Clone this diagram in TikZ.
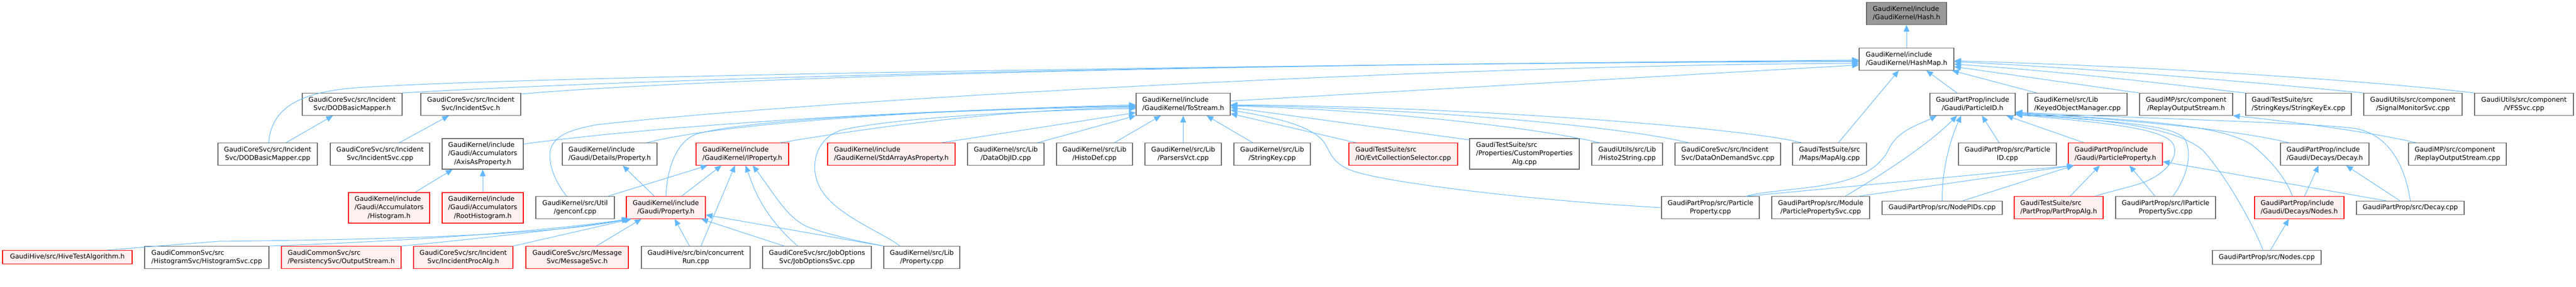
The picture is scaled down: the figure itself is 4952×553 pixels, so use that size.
\documentclass[tikz,border=0pt]{standalone}
\usepackage{fontspec}
\setmainfont{DejaVu Sans}
\usepackage{tikz}
\usetikzlibrary{arrows.meta}
\usepackage{xcolor}

\definecolor{edgeblue}{HTML}{63B8FF}
\definecolor{boxgray}{HTML}{666666}
\definecolor{hashgray}{HTML}{999999}
\definecolor{redfill}{HTML}{FFF0F0}

% file labels: upper lines left aligned, last line centred
\newcommand{\fone}[1]{\begin{tabular}{@{}c@{}}#1\end{tabular}}
\newcommand{\ftwo}[2]{\begin{tabular}{@{}l@{}}#1\\\multicolumn{1}{@{}c@{}}{#2}\end{tabular}}
\newcommand{\fthree}[3]{\begin{tabular}{@{}l@{}}#1\\#2\\\multicolumn{1}{@{}c@{}}{#3}\end{tabular}}

\begin{document}
\begin{tikzpicture}[x=1pt, y=-1pt,
    filebox/.style={draw=boxgray, fill=white, line width=1.2pt, inner xsep=6pt, inner ysep=5pt, font=\fontsize{12.7}{16.3}\selectfont},
    redbox/.style={filebox, draw=red, fill=redfill},
    hashbox/.style={filebox, fill=hashgray},
    incl/.style={draw=edgeblue, line width=1pt, >={Triangle[length=13pt,width=11pt]}, <-}]

\useasboundingbox (0,0) rectangle (4952,553);

% Hash.h and HashMap.h
\node[hashbox, minimum width=154pt] (hash) at (3665,26) {\ftwo{GaudiKernel/include}{/GaudiKernel/Hash.h}};
\node[filebox, minimum width=182pt] (hashmap) at (3665,114) {\ftwo{GaudiKernel/include}{/GaudiKernel/HashMap.h}};

% second row
\node[filebox, minimum width=192pt] (dodh) at (677,201) {\ftwo{GaudiCoreSvc/src/Incident}{Svc/DODBasicMapper.h}};
\node[filebox, minimum width=192pt] (incsvch) at (905,201) {\ftwo{GaudiCoreSvc/src/Incident}{Svc/IncidentSvc.h}};
\node[filebox, minimum width=181pt] (tostream) at (2274.5,201) {\ftwo{GaudiKernel/include}{/GaudiKernel/ToStream.h}};
\node[filebox, minimum width=164pt] (particleid) at (3792,201) {\ftwo{GaudiPartProp/include}{/Gaudi/ParticleID.h}};
\node[filebox, minimum width=191pt] (keyed) at (3993.5,201) {\ftwo{GaudiKernel/src/Lib}{/KeyedObjectManager.cpp}};
\node[filebox, minimum width=179pt] (replayh) at (4202.5,201) {\ftwo{GaudiMP/src/component}{/ReplayOutputStream.h}};
\node[filebox, minimum width=203pt] (strkeyex) at (4418.5,201) {\ftwo{GaudiTestSuite/src}{/StringKeys/StringKeyEx.cpp}};
\node[filebox, minimum width=189pt] (sigmon) at (4638.5,201) {\ftwo{GaudiUtils/src/component}{/SignalMonitorSvc.cpp}};
\node[filebox, minimum width=190pt] (vfssvc) at (4852,201) {\ftwo{GaudiUtils/src/component}{/VFSSvc.cpp}};

% third row
\node[filebox, minimum width=191pt] (dodcpp) at (514.5,297) {\ftwo{GaudiCoreSvc/src/Incident}{Svc/DODBasicMapper.cpp}};
\node[filebox, minimum width=191pt] (incsvccpp) at (730.5,297) {\ftwo{GaudiCoreSvc/src/Incident}{Svc/IncidentSvc.cpp}};
\node[filebox, minimum width=156pt] (axis) at (928,296.5) {\fthree{GaudiKernel/include}{/Gaudi/Accumulators}{/AxisAsProperty.h}};
\node[filebox, minimum width=182pt] (detprop) at (1172,297) {\ftwo{GaudiKernel/include}{/Gaudi/Details/Property.h}};
\node[redbox, minimum width=178pt] (iprop) at (1427,297) {\ftwo{GaudiKernel/include}{/GaudiKernel/IProperty.h}};
\node[redbox, minimum width=245pt] (stdarray) at (1713.5,297) {\ftwo{GaudiKernel/include}{/GaudiKernel/StdArrayAsProperty.h}};
\node[filebox, minimum width=147pt] (dataobjid) at (1933.5,297) {\ftwo{GaudiKernel/src/Lib}{/DataObjID.cpp}};
\node[filebox, minimum width=146pt] (histodef) at (2104,297) {\ftwo{GaudiKernel/src/Lib}{/HistoDef.cpp}};
\node[filebox, minimum width=147pt] (parsersvct) at (2274.5,297) {\ftwo{GaudiKernel/src/Lib}{/ParsersVct.cpp}};
\node[filebox, minimum width=147pt] (stringkey) at (2445.5,297) {\ftwo{GaudiKernel/src/Lib}{/StringKey.cpp}};
\node[redbox, minimum width=209pt] (evtsel) at (2697.5,297) {\ftwo{GaudiTestSuite/src}{/IO/EvtCollectionSelector.cpp}};
\node[filebox, minimum width=211pt] (custprop) at (2930.5,296.5) {\fthree{GaudiTestSuite/src}{/Properties/CustomProperties}{Alg.cpp}};
\node[filebox, minimum width=136pt] (histo2str) at (3128,297) {\ftwo{GaudiUtils/src/Lib}{/Histo2String.cpp}};
\node[filebox, minimum width=203pt] (dataondemand) at (3321.5,297) {\ftwo{GaudiCoreSvc/src/Incident}{Svc/DataOnDemandSvc.cpp}};
\node[filebox, minimum width=142pt] (mapalg) at (3517,297) {\ftwo{GaudiTestSuite/src}{/Maps/MapAlg.cpp}};
\node[filebox, minimum width=188pt] (particleidcpp) at (3859,297) {\ftwo{GaudiPartProp/src/Particle}{ID.cpp}};
\node[redbox, minimum width=181pt] (partproph) at (4066.5,297) {\ftwo{GaudiPartProp/include}{/Gaudi/ParticleProperty.h}};
\node[filebox, minimum width=170pt] (decayh) at (4469,297) {\ftwo{GaudiPartProp/include}{/Gaudi/Decays/Decay.h}};
\node[filebox, minimum width=188pt] (replaycpp) at (4724,297) {\ftwo{GaudiMP/src/component}{/ReplayOutputStream.cpp}};

% fourth row
\node[redbox, minimum width=156pt] (histogramh) at (748,400.5) {\fthree{GaudiKernel/include}{/Gaudi/Accumulators}{/Histogram.h}};
\node[redbox, minimum width=156pt] (roothist) at (928,400.5) {\fthree{GaudiKernel/include}{/Gaudi/Accumulators}{/RootHistogram.h}};
\node[filebox, minimum width=151pt] (genconf) at (1105.5,400) {\ftwo{GaudiKernel/src/Util}{/genconf.cpp}};
\node[redbox, minimum width=152pt] (property) at (1280,400) {\ftwo{GaudiKernel/include}{/Gaudi/Property.h}};
\node[filebox, minimum width=188pt] (ppcpp) at (3288,400) {\ftwo{GaudiPartProp/src/Particle}{Property.cpp}};
\node[filebox, minimum width=188pt] (ppsvc) at (3500,400) {\ftwo{GaudiPartProp/src/Module}{/ParticlePropertySvc.cpp}};
\node[filebox, minimum width=231pt] (nodepids) at (3733.5,400.5) {\fone{GaudiPartProp/src/NodePIDs.cpp}};
\node[redbox, minimum width=171pt] (partpropalg) at (3957.5,400) {\ftwo{GaudiTestSuite/src}{/PartProp/PartPropAlg.h}};
\node[filebox, minimum width=192pt] (ipps) at (4163,400) {\ftwo{GaudiPartProp/src/IParticle}{PropertySvc.cpp}};
\node[redbox, minimum width=172pt] (nodesh) at (4420,400) {\ftwo{GaudiPartProp/include}{/Gaudi/Decays/Nodes.h}};
\node[filebox, minimum width=207pt] (decaycpp) at (4633.5,400.5) {\fone{GaudiPartProp/src/Decay.cpp}};

% bottom row
\node[redbox, minimum width=249pt] (hivetest) at (129.5,495.5) {\fone{GaudiHive/src/HiveTestAlgorithm.h}};
\node[filebox, minimum width=239pt] (histsvc) at (397.5,496) {\ftwo{GaudiCommonSvc/src}{/HistogramSvc/HistogramSvc.cpp}};
\node[redbox, minimum width=230pt] (outstream) at (656,496) {\ftwo{GaudiCommonSvc/src}{/PersistencySvc/OutputStream.h}};
\node[redbox, minimum width=191pt] (incproc) at (890.5,496) {\ftwo{GaudiCoreSvc/src/Incident}{Svc/IncidentProcAlg.h}};
\node[redbox, minimum width=197pt] (msgsvc) at (1109.5,496) {\ftwo{GaudiCoreSvc/src/Message}{Svc/MessageSvc.h}};
\node[filebox, minimum width=209pt] (concrun) at (1337.5,496) {\ftwo{GaudiHive/src/bin/concurrent}{Run.cpp}};
\node[filebox, minimum width=209pt] (jobopt) at (1570.5,496) {\ftwo{GaudiCoreSvc/src/JobOptions}{Svc/JobOptionsSvc.cpp}};
\node[filebox, minimum width=146pt] (libprop) at (1772,496) {\ftwo{GaudiKernel/src/Lib}{/Property.cpp}};
\node[filebox, minimum width=209pt] (nodescpp) at (4357.5,496) {\fone{GaudiPartProp/src/Nodes.cpp}};

% includes of HashMap.h
\draw[incl] (hash) -- (hashmap);
\draw[incl] (hashmap.181) .. controls (2000,130) and (1000,150) .. (700,168) .. controls (580,175) and (522,205) .. ([xshift=2pt]dodcpp.north);
\draw[incl] (hashmap.182) .. controls (2000,125) and (1100,160) .. (dodh.north east);
\draw[incl] (hashmap.183) .. controls (2200,122) and (1300,155) .. ([yshift=-2pt]incsvch.north east);
\draw[incl] (hashmap.185) .. controls (2800,125) and (1600,190) .. (1150,240) .. controls (1090,250) and (1057,265) .. (1057,300) .. controls (1057,330) and (1075,360) .. ([xshift=-16pt]genconf.north);
\draw[incl] (hashmap.187) -- (tostream.4);
\draw[incl] ([xshift=-15pt]hashmap.south) -- ([xshift=17pt]mapalg.north);
\draw[incl] ([xshift=38pt]hashmap.south) -- ([xshift=-30pt]particleid.north);
\draw[incl] ([xshift=-4pt]hashmap.south east) -- ([xshift=-78pt]keyed.north);
\draw[incl] (hashmap.-9) -- (replayh.north west);
\draw[incl] (hashmap.-6) .. controls (4000,140) and (4250,172) .. (strkeyex.north west);
\draw[incl] (hashmap.-3) .. controls (4100,136) and (4450,170) .. (sigmon.north west);
\draw[incl] (hashmap.-2) .. controls (4200,130) and (4600,160) .. (vfssvc.north west);

% includes of ToStream.h
\draw[incl] ([yshift=-3pt]tostream.west) .. controls (1800,210) and (1300,238) .. ([yshift=-11pt]axis.north east);
\draw[incl] ([yshift=-1pt]tostream.west) .. controls (1800,212) and (1400,235) .. ([xshift=71pt]detprop.north);
\draw[incl] ([yshift=-4pt]tostream.west) .. controls (1700,215) and (1420,235) .. (1340,258) .. controls (1298,272) and (1282,330) .. (property.north);
\draw[incl] ([yshift=-6pt]tostream.west) .. controls (1900,212) and (1650,250) .. ([xshift=72pt]iprop.north);
\draw[incl] ([yshift=-8pt]tostream.west) .. controls (1900,215) and (1700,232) .. (1620,250) .. controls (1565,265) and (1550,330) .. (1585,375) .. controls (1620,420) and (1700,450) .. ([xshift=-42pt]libprop.north);
\draw[incl] ([yshift=-16pt]tostream.west) -- ([xshift=96pt]stdarray.north);
\draw[incl] (tostream.south west) -- ([xshift=61pt]dataobjid.north);
\draw[incl] ([xshift=-43pt]tostream.south) -- ([xshift=38pt]histodef.north);
\draw[incl] (tostream) -- (parsersvct);
\draw[incl] ([xshift=45pt]tostream.south) -- ([xshift=-37pt]stringkey.north);
\draw[incl] ([yshift=-6pt]tostream.east) -- ([yshift=-3pt]custprop.north west);
\draw[incl] ([yshift=-18pt]tostream.east) -- ([xshift=-90pt]evtsel.north);
\draw[incl] ([yshift=-11pt]tostream.east) .. controls (2440,225) and (2525,240) .. (2548,278) .. controls (2560,300) and (2565,322) .. (2620,335) .. controls (2720,360) and (3000,390) .. (ppcpp.west);
\draw[incl] ([yshift=-3pt]tostream.east) .. controls (2650,212) and (2950,245) .. ([xshift=-53pt]histo2str.north);
\draw[incl] ([yshift=-2pt]tostream.east) .. controls (2700,208) and (3100,240) .. ([xshift=-75pt]dataondemand.north);
\draw[incl] ([yshift=-1pt]tostream.east) .. controls (2800,205) and (3350,245) .. ([xshift=-54pt]mapalg.north);

% includes of IProperty.h
\draw[incl] ([xshift=-67pt]iprop.south) -- ([xshift=63pt]genconf.north);
\draw[incl] ([xshift=-40pt]iprop.south) -- ([xshift=30pt]property.north);
\draw[incl] ([xshift=-14pt]iprop.south) -- ([xshift=10pt]concrun.north);
\draw[incl] ([xshift=6pt]iprop.south) .. controls (1445,350) and (1460,410) .. ([xshift=-37pt]jobopt.north);
\draw[incl] ([xshift=20pt]iprop.south) .. controls (1490,375) and (1515,425) .. (1560,440) .. controls (1620,460) and (1680,470) .. (libprop.north west);

% includes of Gaudi/Property.h
\draw[incl] ([xshift=25pt]detprop.south) -- ([xshift=-22pt]property.north);
\draw[incl] ([yshift=-14pt]property.east) -- (libprop.north west);
\draw[incl] ([xshift=68pt]property.south) -- ([xshift=-63pt]jobopt.north);
\draw[incl] ([xshift=17pt]property.south) -- ([xshift=-12pt]concrun.north);
\draw[incl] ([xshift=-47pt]property.south) -- ([xshift=37pt]msgsvc.north);
\draw[incl] ([xshift=-66pt]property.south) -- (incproc.north east);
\draw[incl] ([xshift=-68pt]property.south) .. controls (1100,440) and (900,462) .. (outstream.north east);
\draw[incl] ([xshift=-70pt]property.south) .. controls (1050,445) and (800,464) .. (histsvc.north east);
\draw[incl] ([xshift=-72pt]property.south) .. controls (1050,455) and (700,462) .. (420,465) -- ([xshift=77pt]hivetest.north);

% accumulators and incident service
\draw[incl] ([xshift=-58pt]axis.south) -- ([xshift=50pt]histogramh.north);
\draw[incl] (axis) -- (roothist);
\draw[incl] ([xshift=-42pt]incsvch.south) -- ([xshift=37pt]incsvccpp.north);
\draw[incl] ([xshift=-37pt]dodh.south) -- ([xshift=35pt]dodcpp.north);

% includes of ParticleID.h
\draw[incl] ([xshift=-69pt]particleid.south) .. controls (3690,240) and (3650,250) .. (3632,285) .. controls (3612,330) and (3560,352) .. (3470,362) .. controls (3420,368) and (3375,372) .. ([xshift=69pt]ppcpp.north);
\draw[incl] ([xshift=-30pt]particleid.south) .. controls (3705,280) and (3620,335) .. ([xshift=47pt]ppsvc.north);
\draw[incl] ([xshift=-22pt]particleid.south) .. controls (3752,262) and (3733,320) .. (nodepids.north);
\draw[incl] ([xshift=18pt]particleid.south) -- ([xshift=-16pt]particleidcpp.north);
\draw[incl] ([xshift=65pt]particleid.south) -- ([xshift=-60pt]partproph.north);
\draw[incl] ([yshift=-20pt]particleid.east) .. controls (4040,236) and (4150,246) .. (4175,274) .. controls (4195,300) and (4160,340) .. (4110,355) .. controls (4080,364) and (4045,372) .. ([xshift=70pt]partpropalg.north);
\draw[incl] ([yshift=-19pt]particleid.east) .. controls (4060,234) and (4180,240) .. (4200,268) .. controls (4215,295) and (4205,340) .. ([xshift=14pt]ipps.north);
\draw[incl] ([yshift=-18pt]particleid.east) .. controls (4080,232) and (4190,250) .. (4235,290) .. controls (4280,340) and (4330,430) .. ([xshift=-7pt]nodescpp.north);
\draw[incl] ([yshift=-17pt]particleid.east) .. controls (4150,232) and (4280,245) .. (4330,280) .. controls (4365,308) and (4395,345) .. ([xshift=-13pt]nodesh.north);
\draw[incl] ([yshift=-16pt]particleid.east) .. controls (4100,232) and (4300,250) .. ([xshift=-69pt]decayh.north);
\draw[incl] ([yshift=-15pt]particleid.east) .. controls (4100,228) and (4450,236) .. (4530,248) .. controls (4580,258) and (4620,300) .. (decaycpp.north);

% includes of ParticleProperty.h
\draw[incl] ([xshift=-80pt]partproph.south) -- ([xshift=69pt]ppcpp.north);
\draw[incl] ([xshift=-80pt]partproph.south) -- ([xshift=73pt]ppsvc.north);
\draw[incl] ([xshift=-80pt]partproph.south) -- ([xshift=40pt]nodepids.north);
\draw[incl] ([xshift=-30pt]partproph.south) -- ([xshift=22pt]partpropalg.north);
\draw[incl] ([xshift=27pt]partproph.south) -- ([xshift=-20pt]ipps.north);
\draw[incl] (partproph.-9) -- ([xshift=-47pt]decaycpp.north);

% decays
\draw[incl] ([xshift=-12pt]decayh.south) -- ([xshift=10pt]nodesh.north);
\draw[incl] ([xshift=41pt]decayh.south) -- ([xshift=-20pt]decaycpp.north);
\draw[incl] ([xshift=-20pt]nodesh.south) -- ([xshift=7pt]nodescpp.north);
\draw[incl] (replayh.south east) .. controls (4420,236) and (4560,255) .. ([xshift=-79pt]replaycpp.north);

\end{tikzpicture}
\end{document}
